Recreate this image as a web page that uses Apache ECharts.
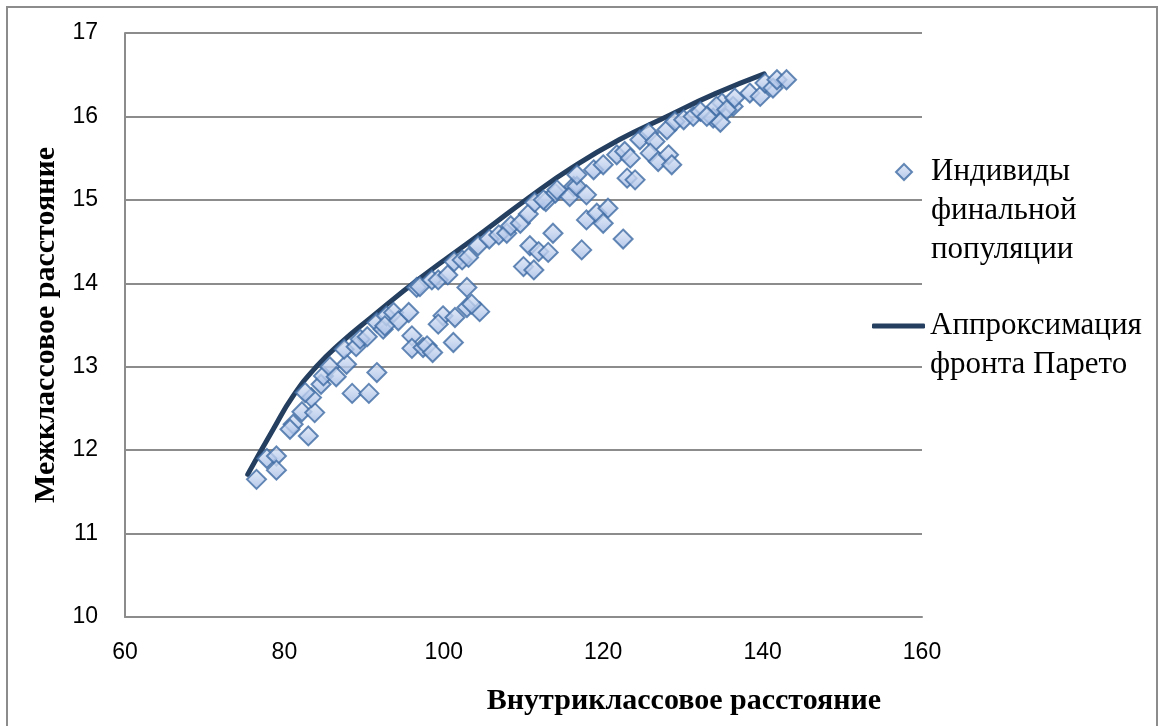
<!DOCTYPE html>
<html>
<head>
<meta charset="utf-8">
<script src="https://cdn.jsdelivr.net/npm/echarts@6/dist/echarts.min.js"></script>
<style>
  html, body { margin: 0; padding: 0; background: #fff; }
  #chart { width: 1162px; height: 726px; }
</style>
</head>
<body>
<div id="chart"></div>
<script>
// individuals of the final population: [intra-class, inter-class]
const individuals = [
  [76.5, 11.65], [77.8, 11.90], [79.0, 11.93], [79.0, 11.76], [81.1, 12.31],
  [80.7, 12.25], [83.0, 12.17], [82.2, 12.46], [83.8, 12.45], [83.4, 12.63],
  [82.6, 12.69], [84.6, 12.79], [84.9, 12.89], [85.7, 13.00], [86.5, 12.88],
  [87.8, 13.03], [87.5, 13.21], [88.5, 12.68], [90.6, 12.68], [91.6, 12.93],
  [89.0, 13.24], [89.5, 13.33], [90.4, 13.36], [91.6, 13.53], [92.4, 13.45],
  [92.8, 13.61], [93.7, 13.65], [94.3, 13.55], [95.6, 13.65], [96.0, 13.37],
  [96.0, 13.22], [97.4, 13.23], [96.6, 13.95], [92.6, 13.49], [101.2, 13.29],
  [99.9, 13.61], [99.3, 13.51], [101.4, 13.59], [102.9, 13.71], [104.5, 13.66],
  [103.5, 13.75], [102.9, 13.95], [97.0, 13.96], [98.5, 14.04], [99.3, 14.04],
  [100.5, 14.10], [101.3, 14.26], [102.3, 14.28], [103.1, 14.31], [104.3, 14.45],
  [105.7, 14.53], [106.9, 14.58], [107.9, 14.60], [108.4, 14.69], [109.6, 14.72],
  [110.6, 14.83], [111.4, 14.97], [112.8, 14.98], [114.0, 15.08], [116.3, 15.16],
  [113.7, 14.60], [110.8, 14.45], [111.9, 14.38], [113.1, 14.37], [110.0, 14.20],
  [111.3, 14.16], [117.3, 14.40], [117.9, 14.76], [119.2, 14.84], [120.6, 14.90],
  [120.0, 14.72], [122.5, 14.53], [112.5, 15.00], [114.2, 15.12], [115.8, 15.04],
  [116.7, 15.16], [117.9, 15.06], [116.7, 15.30], [118.8, 15.36], [120.0, 15.42],
  [121.7, 15.54], [122.7, 15.58], [123.4, 15.50], [124.6, 15.72], [125.7, 15.80],
  [126.5, 15.70], [128.0, 15.84], [129.0, 15.94], [130.1, 15.96], [131.3, 16.00],
  [132.2, 16.06], [133.8, 15.98], [134.7, 15.93], [134.9, 16.16], [136.3, 16.12],
  [125.9, 15.56], [126.9, 15.46], [128.2, 15.54], [128.6, 15.42], [123.0, 15.26],
  [124.0, 15.24], [134.2, 16.12], [135.5, 16.08], [136.5, 16.22], [138.4, 16.28],
  [139.7, 16.24], [140.3, 16.40], [141.3, 16.34], [141.8, 16.44], [143.0, 16.44],
  [133.0, 16.00], [97.9, 13.25], [98.6, 13.17]
]

// Pareto front approximation
const paretoFront = [
  [75.4, 11.71], [78.6, 12.25], [81.1, 12.65], [84.0, 13.00], [87.0, 13.28],
  [91.0, 13.60], [97.0, 14.06], [105.0, 14.62], [111.0, 15.05], [116.0, 15.38],
  [122.0, 15.72], [128.0, 16.00], [134.0, 16.27], [140.2, 16.51]
]

const xTicks = { min: 60, max: 160, interval: 20 }
const yTicks = { min: 10, max: 17, interval: 1 }

const scatterName = 'Индивиды финальной популяции'
const lineName = 'Аппроксимация фронта Парето'
// leading blank lines keep the legend icon level with the first text line
const legendLabels = {
  [scatterName]: '\n\nИндивиды\nфинальной\nпопуляции',
  [lineName]: '\nАппроксимация\nфронта Парето'
}
// 38x16 box, diamond sits at the left, rest is empty space before the text
const diamondIcon = 'path://M0,8 L0.001,8 M16,0 L24,8 L16,16 L8,8 Z M37.999,8 L38,8'

const axisColor = '#8c8c8c'
const lineColor = '#243f60'
const tickFont = { color: '#000', fontSize: 23, fontFamily: 'Liberation Sans, Arial, sans-serif' }
const titleFont = { color: '#000', fontSize: 30, fontWeight: 'bold', fontFamily: 'Liberation Serif, Times New Roman, serif' }
const legendFont = { color: '#000', fontSize: 31, lineHeight: 39, fontFamily: 'Liberation Serif, Times New Roman, serif' }

const chart = echarts.init(document.getElementById('chart'))

chart.setOption({
  backgroundColor: '#fff',
  animation: false,
  graphic: [{
    type: 'rect',
    shape: { x: 7, y: 7, width: 1150, height: 740 },
    style: { fill: 'none', stroke: axisColor, lineWidth: 2 },
    silent: true
  }],
  grid: { left: 125, top: 33, right: 240, bottom: 109 },
  legend: [
    {
      data: [{ name: scatterName, icon: diamondIcon }],
      left: 887, top: 172 - 97.5, padding: 0,
      itemWidth: 38, itemHeight: 16,
      formatter: (n) => legendLabels[n],
      textStyle: legendFont
    },
    {
      data: [{ name: lineName, icon: 'roundRect' }],
      left: 872, top: 326 - 58.5, padding: 0,
      itemWidth: 53, itemHeight: 5,
      formatter: (n) => legendLabels[n],
      textStyle: legendFont
    }
  ],
  xAxis: {
    type: 'value',
    min: xTicks.min, max: xTicks.max, interval: xTicks.interval,
    name: 'Внутриклассовое расстояние',
    nameLocation: 'middle',
    nameGap: 69,
    nameTextStyle: Object.assign({ padding: [0, 0, 0, 321] }, titleFont),
    axisLine: { lineStyle: { color: axisColor, width: 2 } },
    axisTick: { show: false },
    axisLabel: Object.assign({ margin: 24 }, tickFont),
    splitLine: { show: false }
  },
  yAxis: {
    type: 'value',
    min: yTicks.min, max: yTicks.max, interval: yTicks.interval,
    name: 'Межклассовое расстояние',
    nameLocation: 'middle',
    nameRotate: 90,
    nameGap: 59,
    nameTextStyle: titleFont,
    axisLine: { show: true, lineStyle: { color: axisColor, width: 2 } },
    axisTick: { show: false },
    axisLabel: Object.assign({ margin: 27 }, tickFont),
    splitLine: { lineStyle: { color: axisColor, width: 2 } }
  },
  series: [
    {
      name: lineName,
      type: 'line',
      data: paretoFront,
      smooth: true,
      symbol: 'none',
      z: 2,
      lineStyle: { color: lineColor, width: 5, cap: 'round' },
      itemStyle: { color: lineColor }
    },
    {
      name: scatterName,
      type: 'scatter',
      data: individuals,
      symbol: 'diamond',
      symbolSize: 19,
      z: 3,
      itemStyle: {
        color: {
          type: 'linear', x: 0, y: 0, x2: 0, y2: 1,
          colorStops: [
            { offset: 0, color: '#dfe7f7' },
            { offset: 1, color: '#9fb8e3' }
          ]
        },
        borderColor: '#3f6ba4',
        borderWidth: 2
      }
    }
  ]
})
</script>
</body>
</html>
